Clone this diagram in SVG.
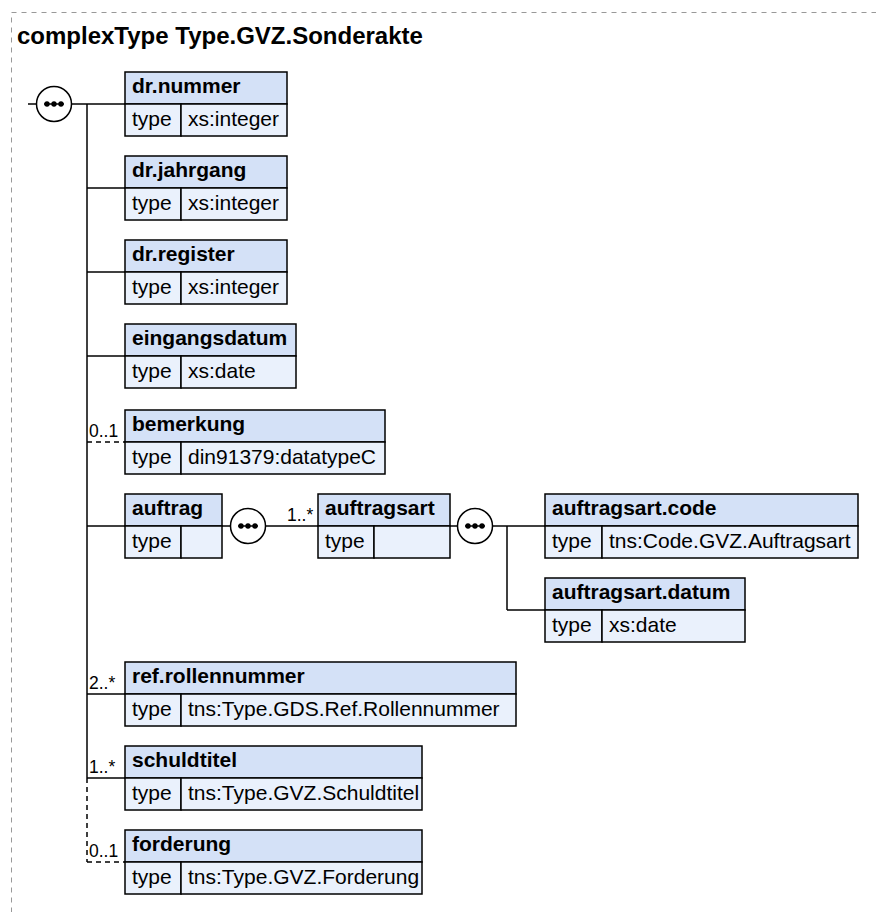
<svg xmlns="http://www.w3.org/2000/svg" width="876" height="912" viewBox="0 0 876 912">
<style>
text{font-family:"Liberation Sans",Arial,sans-serif;fill:#000}
.title{font-size:24px;font-weight:bold}
.hd{fill:#d4e1f7;stroke:#000;stroke-width:1.5}
.bd{fill:#eaf1fc;stroke:#000;stroke-width:1.5}
.name{font-size:21px;font-weight:bold}
.val{font-size:21px}
.mult{font-size:17.5px}
.ln{stroke:#000;stroke-width:1.5;fill:none}
.dash{stroke:#000;stroke-width:1.5;fill:none;stroke-dasharray:5,4}
.seq{fill:#fff;stroke:#000;stroke-width:1.5}
</style>
<defs>
<g id="seqsym">
<circle class="seq" cx="0" cy="0" r="17.5"/>
<line x1="-10" y1="0" x2="10" y2="0" stroke="#000" stroke-width="1.5"/>
<circle cx="-7" cy="0" r="2.7" fill="#000"/>
<circle cx="0" cy="0" r="2.7" fill="#000"/>
<circle cx="7" cy="0" r="2.7" fill="#000"/>
</g>
</defs>
<rect x="11.5" y="12.5" width="900" height="930" fill="none" stroke="#999" stroke-width="1" stroke-dasharray="5,5"/>
<text class="title" x="17" y="44">complexType Type.GVZ.Sonderakte</text>

<g id="connectors">
<line class="ln" x1="28" y1="104" x2="37" y2="104"/>
<line class="ln" x1="71" y1="104" x2="125" y2="104"/>
<line class="ln" x1="87" y1="104" x2="87" y2="778"/>
<line class="dash" x1="87" y1="778" x2="87" y2="862"/>
<line class="ln" x1="87" y1="188" x2="125" y2="188"/>
<line class="ln" x1="87" y1="272" x2="125" y2="272"/>
<line class="ln" x1="87" y1="356" x2="125" y2="356"/>
<line class="dash" x1="87" y1="442" x2="125" y2="442"/>
<line class="ln" x1="87" y1="526" x2="125" y2="526"/>
<line class="ln" x1="222" y1="526" x2="231" y2="526"/>
<line class="ln" x1="265" y1="526" x2="318" y2="526"/>
<line class="ln" x1="450" y1="526" x2="458" y2="526"/>
<line class="ln" x1="492" y1="526" x2="545" y2="526"/>
<line class="ln" x1="507" y1="526" x2="507" y2="610"/>
<line class="ln" x1="507" y1="610" x2="545" y2="610"/>
<line class="ln" x1="87" y1="694" x2="125" y2="694"/>
<line class="ln" x1="87" y1="778" x2="125" y2="778"/>
<line class="dash" x1="87" y1="862" x2="125" y2="862"/>
<use href="#seqsym" x="54" y="104"/>
<use href="#seqsym" x="248" y="526"/>
<use href="#seqsym" x="475" y="526"/>
<text class="mult" x="89" y="437">0..1</text>
<text class="mult" x="287" y="521">1..*</text>
<text class="mult" x="89" y="689">2..*</text>
<text class="mult" x="89" y="773">1..*</text>
<text class="mult" x="89" y="857">0..1</text>
</g>

<g id="dr.nummer">
<rect class="hd" x="125" y="72" width="162" height="32"/>
<rect class="bd" x="125" y="104" width="56" height="32"/>
<rect class="bd" x="181" y="104" width="106" height="32"/>
<text class="name" x="132" y="93">dr.nummer</text>
<text class="val" x="132" y="126">type</text>
<text class="val" x="188" y="126">xs:integer</text>
</g>
<g id="dr.jahrgang">
<rect class="hd" x="125" y="156" width="162" height="32"/>
<rect class="bd" x="125" y="188" width="56" height="32"/>
<rect class="bd" x="181" y="188" width="106" height="32"/>
<text class="name" x="132" y="177">dr.jahrgang</text>
<text class="val" x="132" y="210">type</text>
<text class="val" x="188" y="210">xs:integer</text>
</g>
<g id="dr.register">
<rect class="hd" x="125" y="240" width="162" height="32"/>
<rect class="bd" x="125" y="272" width="56" height="32"/>
<rect class="bd" x="181" y="272" width="106" height="32"/>
<text class="name" x="132" y="261">dr.register</text>
<text class="val" x="132" y="294">type</text>
<text class="val" x="188" y="294">xs:integer</text>
</g>
<g id="eingangsdatum">
<rect class="hd" x="125" y="324" width="171" height="32"/>
<rect class="bd" x="125" y="356" width="56" height="32"/>
<rect class="bd" x="181" y="356" width="115" height="32"/>
<text class="name" x="132" y="345">eingangsdatum</text>
<text class="val" x="132" y="378">type</text>
<text class="val" x="188" y="378">xs:date</text>
</g>
<g id="bemerkung">
<rect class="hd" x="125" y="410" width="260" height="32"/>
<rect class="bd" x="125" y="442" width="56" height="32"/>
<rect class="bd" x="181" y="442" width="204" height="32"/>
<text class="name" x="132" y="431">bemerkung</text>
<text class="val" x="132" y="464">type</text>
<text class="val" x="188" y="464">din91379:datatypeC</text>
</g>
<g id="auftrag">
<rect class="hd" x="125" y="494" width="97" height="32"/>
<rect class="bd" x="125" y="526" width="56" height="32"/>
<rect class="bd" x="181" y="526" width="41" height="32"/>
<text class="name" x="132" y="515">auftrag</text>
<text class="val" x="132" y="548">type</text>
</g>
<g id="auftragsart">
<rect class="hd" x="318" y="494" width="132" height="32"/>
<rect class="bd" x="318" y="526" width="56" height="32"/>
<rect class="bd" x="374" y="526" width="76" height="32"/>
<text class="name" x="325" y="515">auftragsart</text>
<text class="val" x="325" y="548">type</text>
</g>
<g id="auftragsart.code">
<rect class="hd" x="545" y="494" width="313" height="32"/>
<rect class="bd" x="545" y="526" width="57" height="32"/>
<rect class="bd" x="602" y="526" width="256" height="32"/>
<text class="name" x="552" y="515">auftragsart.code</text>
<text class="val" x="552" y="548">type</text>
<text class="val" x="609" y="548">tns:Code.GVZ.Auftragsart</text>
</g>
<g id="auftragsart.datum">
<rect class="hd" x="545" y="578" width="200" height="32"/>
<rect class="bd" x="545" y="610" width="57" height="32"/>
<rect class="bd" x="602" y="610" width="143" height="32"/>
<text class="name" x="552" y="599">auftragsart.datum</text>
<text class="val" x="552" y="632">type</text>
<text class="val" x="609" y="632">xs:date</text>
</g>
<g id="ref.rollennummer">
<rect class="hd" x="125" y="662" width="391" height="32"/>
<rect class="bd" x="125" y="694" width="56" height="32"/>
<rect class="bd" x="181" y="694" width="335" height="32"/>
<text class="name" x="132" y="683">ref.rollennummer</text>
<text class="val" x="132" y="716">type</text>
<text class="val" x="188" y="716">tns:Type.GDS.Ref.Rollennummer</text>
</g>
<g id="schuldtitel">
<rect class="hd" x="125" y="746" width="297" height="32"/>
<rect class="bd" x="125" y="778" width="56" height="32"/>
<rect class="bd" x="181" y="778" width="241" height="32"/>
<text class="name" x="132" y="767">schuldtitel</text>
<text class="val" x="132" y="800">type</text>
<text class="val" x="188" y="800">tns:Type.GVZ.Schuldtitel</text>
</g>
<g id="forderung">
<rect class="hd" x="125" y="830" width="297" height="32"/>
<rect class="bd" x="125" y="862" width="56" height="32"/>
<rect class="bd" x="181" y="862" width="241" height="32"/>
<text class="name" x="132" y="851">forderung</text>
<text class="val" x="132" y="884">type</text>
<text class="val" x="188" y="884">tns:Type.GVZ.Forderung</text>
</g>
</svg>
